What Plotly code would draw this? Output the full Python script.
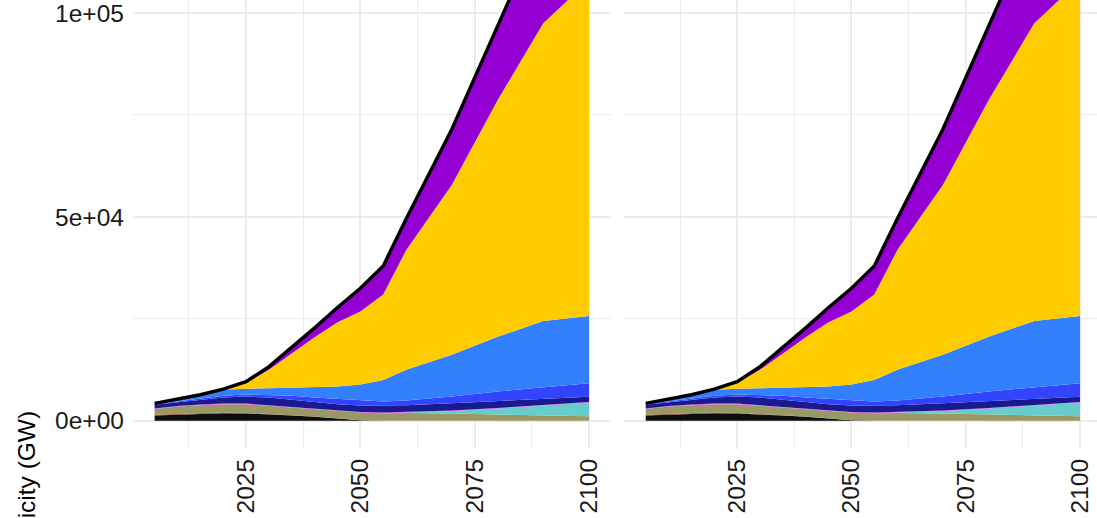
import plotly.graph_objects as go

# ---- data (GW) ----
years = [2005, 2010, 2015, 2020, 2025, 2030, 2035, 2040, 2045, 2050, 2055, 2060, 2070, 2080, 2090, 2100]

coal      = [1300, 1500, 1700, 1850, 1800, 1600, 1300, 1000, 500, 150, 50, 20, 0, 0, 0, 0]
oil       = [200, 200, 200, 180, 150, 120, 80, 50, 30, 20, 10, 0, 0, 0, 0, 0]
gas       = [1400, 1800, 1940, 2050, 2130, 1950, 1890, 1650, 1760, 1870, 1820, 1930, 1800, 1550, 1300, 1100]
gas_ccs   = [0, 0, 0, 0, 0, 0, 0, 0, 0, 0, 0, 100, 600, 1500, 2400, 3400]
biomass   = [150, 150, 150, 150, 150, 150, 150, 150, 150, 150, 150, 150, 150, 120, 100, 100]
nuclear   = [870, 920, 1160, 1490, 1730, 1900, 1730, 1720, 1640, 1570, 1730, 1640, 1780, 1730, 1590, 1300]
hydro     = [130, 130, 200, 410, 490, 650, 980, 1150, 1310, 1220, 980, 1140, 1630, 2290, 2860, 3330]
wind      = [250, 600, 1050, 1470, 1450, 1630, 1970, 2480, 3010, 3920, 5260, 7520, 10240, 13410, 16250, 16470]
solar     = [0, 0, 0, 200, 1400, 4500, 8400, 12300, 15800, 17900, 21000, 29300, 41600, 58000, 73000, 82300]
storage   = [0, 0, 0, 0, 300, 800, 1500, 2300, 3600, 5700, 7000, 7700, 13700, 18400, 24500, 30000]
total     = [4300, 5300, 6400, 7800, 9600, 13300, 18000, 22800, 27800, 32500, 38000, 49500, 71500, 97000, 122000, 138000]

series_names  = ["Coal", "Oil", "Gas", "Gas CCS", "Biomass", "Nuclear", "Hydro", "Wind", "Solar", "Storage"]
series_values = [coal, oil, gas, gas_ccs, biomass, nuclear, hydro, wind, solar, storage]
series_colors = ["#0d0d0d", "#8b4513", "#999966", "#66cccc", "#ff40ff",
                 "#1a1a8f", "#3344ff", "#3380ff", "#ffcc00", "#9400d3"]

y_tickvals = [0, 50000, 100000]
y_ticktext = ["0e+00", "5e+04", "1e+05"]
x_tickvals = [2025, 2050, 2075, 2100]
x_ticktext = ["2025", "2050", "2075", "2100"]

W, H = 1097, 518
BOTTOM = 449  # pixel of panel bottom

fig = go.Figure()
for p, (xa, ya) in enumerate([("x", "y"), ("x2", "y2")]):
    for name, vals, col in zip(series_names, series_values, series_colors):
        fig.add_trace(go.Scatter(
            x=years, y=vals, name=name, mode="lines",
            stackgroup=f"s{p}", line=dict(width=0, color=col),
            fillcolor=col, xaxis=xa, yaxis=ya, showlegend=False))
    fig.add_trace(go.Scatter(
        x=years, y=total, name="Total", mode="lines",
        line=dict(width=3.4, color="black"), xaxis=xa, yaxis=ya, showlegend=False))

grid = "#ebebeb"
font = dict(family="Liberation Sans, Arial, sans-serif", size=24.5, color="#1a1a1a")

xcommon = dict(
    tickmode="array", tickvals=x_tickvals, ticktext=x_ticktext, tickangle=-90,
    showgrid=True, gridcolor=grid, gridwidth=1.5, zeroline=False, showline=False,
    ticks="", tickfont=font, automargin=False, ticklabelstandoff=4,
    ticklabeloverflow="allow",
    minor=dict(tickmode="array", tickvals=[2012.5, 2037.5, 2062.5, 2087.5],
               showgrid=True, gridcolor=grid, gridwidth=1.2),
)
ycommon = dict(
    tickmode="array", tickvals=y_tickvals, ticktext=y_ticktext,
    range=[-6900, 103186], domain=[0, 1],
    showgrid=True, gridcolor=grid, gridwidth=1.5, zeroline=False, showline=False,
    ticks="", tickfont=font, automargin=False, ticklabelstandoff=8,
    ticklabeloverflow="allow",
    minor=dict(tickmode="array", tickvals=[25000, 75000],
               showgrid=True, gridcolor=grid, gridwidth=1.2),
)

fig.update_layout(
    width=W, height=H,
    margin=dict(l=0, r=0, t=0, b=H - BOTTOM, pad=0),
    paper_bgcolor="white", plot_bgcolor="white",
    xaxis=dict(xcommon, domain=[132.9 / W, 610.7 / W], range=[2000.25, 2104.75], anchor="y"),
    xaxis2=dict(xcommon, domain=[624 / W, 1.0], range=[2000.25, 2103.71], anchor="y2"),
    yaxis=dict(ycommon, anchor="x"),
    yaxis2=dict(ycommon, anchor="x2", showticklabels=False),
    font=font,
    annotations=[dict(
        text="Electricity (GW)", textangle=-90, showarrow=False,
        xref="paper", yref="paper", x=27 / W, y=(BOTTOM - 496) / BOTTOM,
        xanchor="center", yanchor="middle",
        font=dict(family="Liberation Sans, Arial, sans-serif", size=24.5, color="black"))],
)

fig.write_html(
    "out.html",
    config={"displayModeBar": False},
    post_script="document.body.style.margin='0';document.body.style.padding='0';"
                "document.body.style.overflow='hidden';",
)
